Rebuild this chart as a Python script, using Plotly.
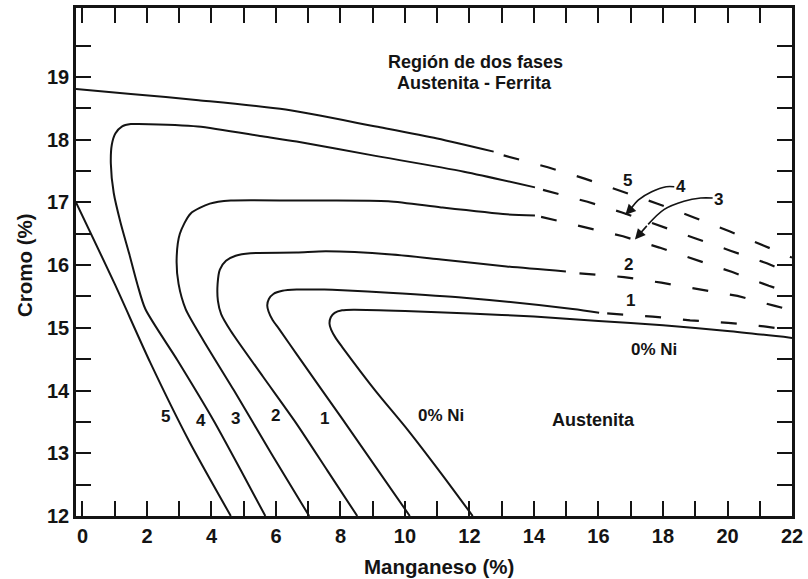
import plotly.graph_objects as go

# Límites del campo austenítico (Cr frente a Mn) para 0-5 % Ni.
# Cada curva: rama inferior + codo + rama superior continua; la
# prolongación de la rama superior se dibuja a trazos.

# ---- 5 % Ni (sale por el eje de Cr en dos tramos) ----
ni5_low_mn = [-0.2, 1.0, 2.1, 3.3, 4.6]
ni5_low_cr = [17.0, 15.7, 14.45, 13.2, 12.0]
ni5_up_mn = [-0.2, 1.5, 3.6, 6.3, 9.1, 11.0, 12.75]
ni5_up_cr = [18.81, 18.73, 18.63, 18.48, 18.21, 18.02, 17.81]
ni5_dash_mn = [13.06, 14.43, 15.57, 16.73, 17.83, 18.96, 20.06, 21.13, 22.0]
ni5_dash_cr = [17.75, 17.56, 17.38, 17.17, 16.98, 16.76, 16.54, 16.31, 16.12]

# ---- 4 % Ni ----
ni4_mn = [5.67, 4.91, 4.07, 2.95, 1.95, 1.70, 1.45, 1.18, 0.97, 0.88, 0.91, 1.02,
          1.22, 1.50, 1.74, 3.58, 5.62, 6.64, 9.0, 11.83, 14.03]
ni4_cr = [12.0, 12.73, 13.52, 14.48, 15.30, 15.70, 16.18, 16.68, 17.15, 17.62, 17.92, 18.10,
          18.21, 18.25, 18.25, 18.21, 18.05, 17.97, 17.75, 17.49, 17.24]
ni4_dash_mn = [14.28, 15.66, 16.73, 17.86, 18.99, 20.09, 21.22, 22.0]
ni4_dash_cr = [17.20, 17.01, 16.84, 16.63, 16.43, 16.23, 16.03, 15.86]

# ---- 3 % Ni ----
ni3_mn = [7.03, 5.85, 4.7, 3.75, 3.2, 2.98, 2.92, 3.02, 3.35, 3.95, 4.6, 6.64,
          9.48, 11.12, 13.15, 14.03]
ni3_cr = [12.0, 13.0, 14.0, 14.8, 15.3, 15.7, 16.1, 16.5, 16.82, 16.98, 17.03, 17.03,
          17.02, 16.92, 16.81, 16.79]
ni3_dash_mn = [14.22, 15.66, 16.76, 17.89, 19.02, 20.15, 21.28, 22.0]
ni3_dash_cr = [16.77, 16.60, 16.46, 16.28, 16.09, 15.89, 15.67, 15.55]

# ---- 2 % Ni ----
ni2_mn = [8.52, 7.6, 6.64, 5.6, 4.6, 4.3, 4.2, 4.19, 4.26, 4.45, 4.75, 5.21,
          6.64, 7.55, 9.59, 11.12, 13.15, 14.99]
ni2_cr = [12.0, 12.72, 13.47, 14.22, 14.95, 15.22, 15.43, 15.70, 15.93, 16.07, 16.15, 16.19,
          16.20, 16.22, 16.17, 16.09, 15.98, 15.90]
ni2_dash_mn = [15.41, 16.79, 17.95, 19.14, 20.31, 21.47, 22.0]
ni2_dash_cr = [15.87, 15.81, 15.72, 15.61, 15.51, 15.35, 15.28]

# ---- 1 % Ni ----
ni1_mn = [10.15, 8.04, 6.64, 6.1, 5.9, 5.77, 5.73, 5.78, 5.92, 6.2, 6.64, 7.5, 8.07,
          9.5, 11.83, 15.2, 16.02]
ni1_cr = [12.0, 13.56, 14.58, 14.98, 15.12, 15.26, 15.36, 15.46, 15.54, 15.59, 15.61, 15.61, 15.6,
          15.56, 15.48, 15.30, 15.24]
ni1_dash_mn = [16.27, 17.68, 18.84, 20.02, 21.19, 22.0]
ni1_dash_cr = [15.23, 15.18, 15.12, 15.08, 15.02, 14.96]

# ---- 0 % Ni (continua hasta el borde) ----
ni0_mn = [12.1, 11.12, 10.09, 9.08, 8.06, 7.85, 7.71, 7.66, 7.70, 7.82, 8.05, 8.4, 10.0,
          12.0, 14.0, 16.0, 18.0, 20.0, 22.0]
ni0_cr = [12.0, 12.68, 13.37, 14.0, 14.69, 14.84, 14.97, 15.07, 15.17, 15.24, 15.28, 15.29, 15.27,
          15.23, 15.18, 15.11, 15.04, 14.95, 14.84]

# Flechas curvas que señalan las curvas 4 y 3
arrow4_mn = [18.35, 18.10, 17.65, 17.24, 16.98, 16.83]
arrow4_cr = [17.25, 17.25, 17.17, 17.04, 16.88, 16.80]
arrow3_mn = [19.54, 19.17, 18.65, 18.04, 17.54, 17.13]
arrow3_cr = [17.07, 17.07, 17.02, 16.89, 16.65, 16.41]

# Rótulos: (texto, Mn, Cr)
curve_labels = [("5", 2.56, 13.58), ("4", 3.67, 13.52), ("3", 4.74, 13.56),
                ("2", 5.99, 13.60), ("1", 7.50, 13.55), ("0% Ni", 11.12, 13.60),
                ("5", 16.91, 17.35), ("4", 18.56, 17.25), ("3", 19.72, 17.05),
                ("2", 16.93, 16.01), ("1", 16.98, 15.44), ("0% Ni", 17.72, 14.66)]
region_labels = [("Región de dos fases", 12.19, 19.24), ("Austenita - Ferrita", 12.16, 18.90),
                 ("Austenita", 15.83, 13.53)]

x_ticks = list(range(0, 23))
x_ticktext = [str(v) if v % 2 == 0 else "" for v in x_ticks]
y_ticks = [12 + 0.5 * i for i in range(16)]
y_ticktext = [str(int(v)) if v == int(v) else "" for v in y_ticks]

INK = "#141414"
FONT = "Liberation Sans, Arial, sans-serif"

fig = go.Figure()

solid = dict(color=INK, width=2, shape="spline", smoothing=0.7)
dashed = dict(color=INK, width=2.2, dash="16px,22px")

for mn, cr in [(ni5_low_mn, ni5_low_cr), (ni5_up_mn, ni5_up_cr), (ni4_mn, ni4_cr),
               (ni3_mn, ni3_cr), (ni2_mn, ni2_cr), (ni1_mn, ni1_cr), (ni0_mn, ni0_cr)]:
    fig.add_trace(go.Scatter(x=mn, y=cr, mode="lines", line=solid,
                             hoverinfo="skip", showlegend=False))

for mn, cr in [(ni5_dash_mn, ni5_dash_cr), (ni4_dash_mn, ni4_dash_cr),
               (ni3_dash_mn, ni3_dash_cr), (ni2_dash_mn, ni2_dash_cr),
               (ni1_dash_mn, ni1_dash_cr)]:
    fig.add_trace(go.Scatter(x=mn, y=cr, mode="lines", line=dashed,
                             hoverinfo="skip", showlegend=False))

annotations = []
for mn, cr in [(arrow4_mn, arrow4_cr), (arrow3_mn, arrow3_cr)]:
    fig.add_trace(go.Scatter(x=mn[:-1], y=cr[:-1], mode="lines",
                             line=dict(color=INK, width=1.6, shape="spline", smoothing=1),
                             hoverinfo="skip", showlegend=False))
    annotations.append(dict(x=mn[-1], y=cr[-1], ax=mn[-2], ay=cr[-2],
                            xref="x", yref="y", axref="x", ayref="y", text="",
                            showarrow=True, arrowhead=2, arrowsize=1.3,
                            arrowwidth=1.6, arrowcolor=INK, standoff=0))

for txt, mn, cr in curve_labels:
    annotations.append(dict(x=mn, y=cr, text=txt, showarrow=False, xref="x", yref="y",
                            font=dict(family=FONT, size=17, color=INK, weight="bold")))
for txt, mn, cr in region_labels:
    annotations.append(dict(x=mn, y=cr, text=txt, showarrow=False, xref="x", yref="y",
                            font=dict(family=FONT, size=18, color=INK, weight="bold")))

# Títulos de los ejes
title_font = dict(family=FONT, size=20.5, color=INK, weight="bold")
annotations.append(dict(text="Manganeso (%)", xref="paper", yref="paper", x=0.507, y=-0.1,
                        xanchor="center", yanchor="middle", showarrow=False, font=title_font))
annotations.append(dict(text="Cromo (%)", xref="paper", yref="paper", x=-0.072, y=0.495,
                        xanchor="center", yanchor="middle", textangle=-90, showarrow=False,
                        font=title_font))

axis_common = dict(showgrid=False, zeroline=False, showline=True, linewidth=2.5,
                   linecolor=INK, mirror="ticks", ticks="inside", ticklen=15,
                   tickwidth=2, tickcolor=INK, ticklabeloverflow="allow",
                   tickfont=dict(family=FONT, size=20, color=INK, weight="bold"))

fig.update_layout(
    width=808, height=579, autosize=False,
    margin=dict(l=76, r=7, t=5, b=63),
    paper_bgcolor="white", plot_bgcolor="white",
    xaxis=dict(range=[-0.2, 22.0], tickvals=x_ticks, ticktext=x_ticktext, **axis_common),
    yaxis=dict(range=[12, 20.1], tickvals=y_ticks, ticktext=y_ticktext, **axis_common),
    annotations=annotations,
)

fig.write_html("out.html")
